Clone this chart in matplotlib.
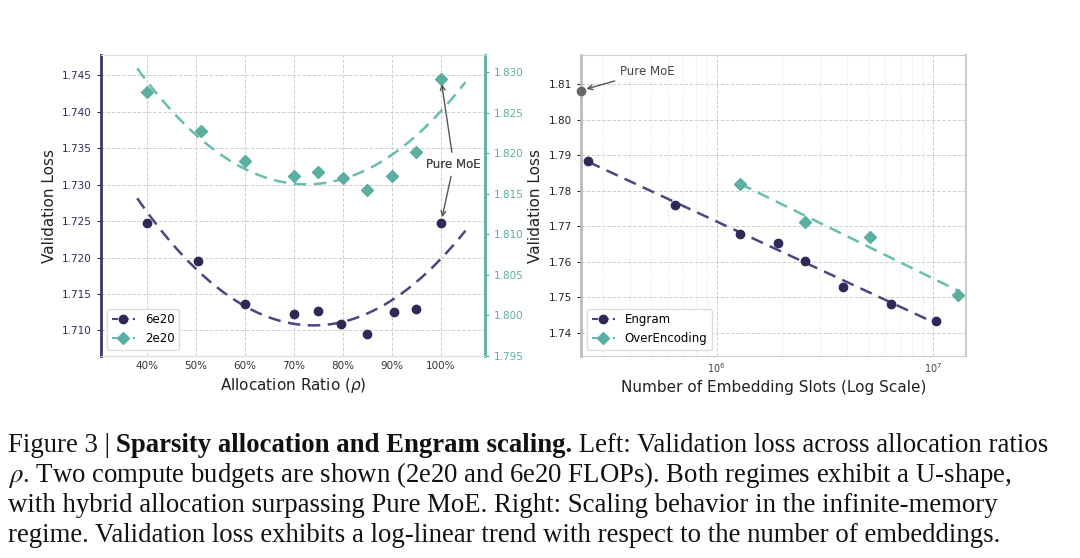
import numpy as np
import matplotlib
matplotlib.use('Agg')
import matplotlib.pyplot as plt
from matplotlib.ticker import PercentFormatter, FixedLocator

# Datos - izquierda (ratio de asignacion)
ratio_6e20 = [0.40, 0.505, 0.60, 0.70, 0.75, 0.795, 0.85, 0.905, 0.95, 1.00]
loss_6e20 = [1.7247, 1.7196, 1.7137, 1.7122, 1.7127, 1.7109, 1.7095, 1.7126, 1.7130, 1.7248]
ratio_2e20 = [0.40, 0.51, 0.60, 0.70, 0.75, 0.80, 0.85, 0.90, 0.95, 1.00]
loss_2e20 = [1.8275, 1.8227, 1.8190, 1.8172, 1.8177, 1.8170, 1.8155, 1.8172, 1.8201, 1.8292]

# Datos - derecha (slots de embedding)
slots_engram = [2.56e5, 6.4e5, 1.28e6, 1.92e6, 2.56e6, 3.84e6, 6.4e6, 1.024e7]
loss_engram = [1.7883, 1.7760, 1.7679, 1.7653, 1.7603, 1.7528, 1.7481, 1.7432]
slots_overenc = [1.28e6, 2.56e6, 5.12e6, 1.30e7]
loss_overenc = [1.7820, 1.7711, 1.7670, 1.7505]
pure_moe_slots = 2.37e5
pure_moe_loss = 1.8082

purple = '#2e2a58'
purple_line = '#4a4680'
teal = '#5aafa2'
teal_line = '#68bdb1'
gray_grid = '#d0d0d0'

fig = plt.figure(figsize=(10.8, 5.58), dpi=100)
ax1 = fig.add_axes([0.0935, 0.362, 0.3556, 0.5394])
ax2 = ax1.twinx()
ax3 = fig.add_axes([0.538, 0.362, 0.3565, 0.5394])

# ---- Grafica izquierda ----
xfit = np.linspace(0.38, 1.05, 200)
c1 = np.polyfit(ratio_6e20, loss_6e20, 2)
c2 = np.polyfit(ratio_2e20, loss_2e20, 2)
ax1.plot(xfit, np.polyval(c1, xfit), color=purple_line, lw=1.8, dashes=(5, 3))
ax2.plot(xfit, np.polyval(c2, xfit), color=teal_line, lw=1.8, dashes=(5, 3))
ax1.plot(ratio_6e20, loss_6e20, 'o', color=purple, ms=6, zorder=3)
ax2.plot(ratio_2e20, loss_2e20, 'D', color=teal, ms=6.5, zorder=3)

ax1.set_xlim(0.306, 1.09)
ax1.set_ylim(1.7065, 1.7478)
ax2.set_ylim(1.795, 1.8321)
ax1.xaxis.set_major_locator(FixedLocator([0.4, 0.5, 0.6, 0.7, 0.8, 0.9, 1.0]))
ax1.xaxis.set_major_formatter(PercentFormatter(1.0, decimals=0))
ax1.set_yticks([1.710, 1.715, 1.720, 1.725, 1.730, 1.735, 1.740, 1.745])
ax2.set_yticks([1.795, 1.800, 1.805, 1.810, 1.815, 1.820, 1.825, 1.830])
ax1.yaxis.set_major_formatter(plt.FormatStrFormatter('%.3f'))
ax2.yaxis.set_major_formatter(plt.FormatStrFormatter('%.3f'))
ax1.grid(True, ls='--', color=gray_grid, lw=0.7)
ax1.tick_params(axis='y', colors=purple, labelsize=7.5, length=3)
ax1.tick_params(axis='x', labelsize=7.5, colors='#333333', length=0)
ax2.tick_params(axis='y', colors=teal, labelsize=7.5, length=3)
ax1.set_xlabel('Allocation Ratio ($\\rho$)', fontsize=11, color='#222222')
ax1.set_ylabel('Validation Loss', fontsize=11, color='#222222')

for s in ['top', 'bottom']:
    ax1.spines[s].set_color('#dddddd')
    ax2.spines[s].set_color('#dddddd')
ax2.spines['left'].set_color('#3d3566')
ax2.spines['left'].set_linewidth(2)
ax2.spines['right'].set_color(teal)
ax2.spines['right'].set_linewidth(2)
ax1.spines['left'].set_visible(False)
ax1.spines['right'].set_visible(False)

h1, = ax1.plot([], [], '-o', color=purple_line, mfc=purple, mec=purple, ms=6, dashes=(3, 2))
h2, = ax2.plot([], [], '-D', color=teal_line, mfc=teal, mec=teal, ms=6, dashes=(3, 2))
ax2.legend([h1, h2], ['6e20', '2e20'], loc='lower left', fontsize=8.5,
           handlelength=2.0, framealpha=1, edgecolor='#dddddd')

# anotaciones Pure MoE
txt_xy = (1.026, 1.7328)
ax2.annotate('Pure MoE', xy=(ratio_2e20[-1], loss_2e20[-1]), xycoords=ax2.transData,
             xytext=txt_xy, textcoords=ax1.transData, ha='center', va='center',
             fontsize=8.5, color='#444444',
             arrowprops=dict(arrowstyle='->', color='#555555', lw=1, shrinkB=4))
ax2.annotate('Pure MoE', xy=(ratio_6e20[-1], loss_6e20[-1]), xycoords=ax1.transData,
             xytext=txt_xy, textcoords=ax1.transData, ha='center', va='center',
             fontsize=8.5, color='#444444',
             arrowprops=dict(arrowstyle='->', color='#555555', lw=1, shrinkB=4))

# ---- Grafica derecha ----
le = np.log10(slots_engram)
lo = np.log10(slots_overenc)
ce = np.polyfit(le, loss_engram, 1)
co = np.polyfit(lo, loss_overenc, 1)
xe = np.linspace(le[0], le[-1], 50)
xo = np.linspace(lo[0], lo[-1], 50)
ax3.plot(10 ** xe, np.polyval(ce, xe), color=purple_line, lw=1.8, dashes=(5, 3))
ax3.plot(10 ** xo, np.polyval(co, xo), color=teal_line, lw=1.8, dashes=(5, 3))
ax3.plot(slots_engram, loss_engram, 'o', color=purple, ms=6, zorder=3)
ax3.plot(slots_overenc, loss_overenc, 'D', color=teal, ms=6.5, zorder=3)
ax3.plot([pure_moe_slots], [pure_moe_loss], 'o', color='#666666', ms=6, zorder=4, clip_on=False)
ax3.annotate('Pure MoE', xy=(pure_moe_slots, pure_moe_loss), xytext=(4.8e5, 1.8135),
             ha='center', va='center', fontsize=8.5, color='#444444',
             arrowprops=dict(arrowstyle='->', color='#555555', lw=1, shrinkB=4))

ax3.set_xscale('log')
ax3.set_xlim(2.37e5, 1.415e7)
ax3.set_ylim(1.7334, 1.8182)
ax3.set_yticks([1.74, 1.75, 1.76, 1.77, 1.78, 1.79, 1.80, 1.81])
ax3.yaxis.set_major_formatter(plt.FormatStrFormatter('%.2f'))
ax3.grid(True, which='major', ls='--', color=gray_grid, lw=0.7)
ax3.grid(True, which='minor', axis='x', ls='--', color='#e6e6e6', lw=0.5)
ax3.tick_params(axis='y', labelsize=7.5, colors='#222222', length=3)
ax3.tick_params(axis='x', which='both', labelsize=7, colors='#444444', length=0)
ax3.set_xlabel('Number of Embedding Slots (Log Scale)', fontsize=11, color='#222222')
ax3.set_ylabel('Validation Loss', fontsize=11, color='#222222')
for s in ['top', 'bottom', 'right']:
    ax3.spines[s].set_color('#cccccc')
ax3.spines['right'].set_linewidth(1.5)
ax3.spines['left'].set_color('#bbbbbb')
ax3.spines['left'].set_linewidth(2)

h3, = ax3.plot([], [], '-o', color=purple_line, mfc=purple, mec=purple, ms=6, dashes=(3, 2))
h4, = ax3.plot([], [], '-D', color=teal_line, mfc=teal, mec=teal, ms=6, dashes=(3, 2))
ax3.legend([h3, h4], ['Engram', 'OverEncoding'], loc='lower left', fontsize=8.5,
           handlelength=2.0, framealpha=1, edgecolor='#dddddd')

# ---- Pie de figura ----
cap_font = dict(family='Liberation Serif', fontsize=19.3, color='#111111', math_fontfamily='stix')
renderer = fig.canvas.get_renderer()
y0 = 1 - 452 / 558
x = 0.007
for piece, weight in [('Figure 3 | ', 'normal'),
                      ('Sparsity allocation and Engram scaling.', 'bold'),
                      (' Left: Validation loss across allocation ratios', 'normal')]:
    t = fig.text(x, y0, piece, va='baseline', fontweight=weight, **cap_font)
    x = fig.transFigure.inverted().transform(t.get_window_extent(renderer).get_points())[1][0]
lines = ['$\\rho$. Two compute budgets are shown (2e20 and 6e20 FLOPs). Both regimes exhibit a U-shape,',
         'with hybrid allocation surpassing Pure MoE. Right: Scaling behavior in the infinite-memory',
         'regime. Validation loss exhibits a log-linear trend with respect to the number of embeddings.']
for i, ln in enumerate(lines):
    fig.text(0.007, y0 - 30 * (i + 1) / 558, ln, va='baseline', **cap_font)

fig.savefig('out.png', dpi=100)
